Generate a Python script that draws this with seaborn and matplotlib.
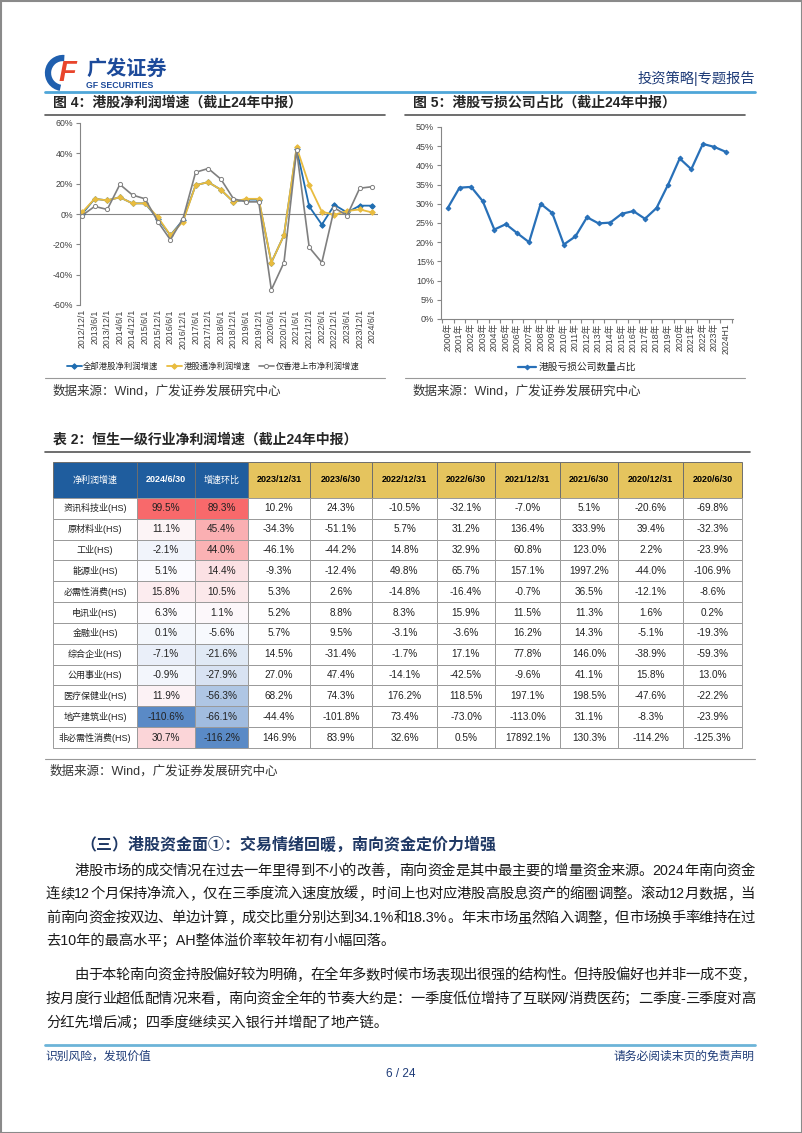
import re
import numpy as np
import matplotlib
matplotlib.use('Agg')
import matplotlib.pyplot as plt
import seaborn as sns
from matplotlib.patches import Rectangle, Arc
from matplotlib.colors import to_rgb

# 图4 数据
dates4 = ['2012/12/1', '2013/6/1', '2013/12/1', '2014/6/1', '2014/12/1', '2015/6/1',
          '2015/12/1', '2016/6/1', '2016/12/1', '2017/6/1', '2017/12/1', '2018/6/1',
          '2018/12/1', '2019/6/1', '2019/12/1', '2020/6/1', '2020/12/1', '2021/6/1',
          '2021/12/1', '2022/6/1', '2022/12/1', '2023/6/1', '2023/12/1', '2024/6/1']
all_hk = [0, 10, 9, 11, 7, 7, -3, -14, -4, 19, 21, 16, 8, 9.5, 9.5, -32, -14, 43, 5, -7, 6, 1, 5.5, 5.5]
sh_connect = [1, 10, 9, 11, 7, 7, -2, -14, -5, 19, 21, 16, 8, 10, 10, -32, -14, 44, 19, 1.5, -0.5, 2, 3, 1]
hk_only = [-1, 5, 3, 19.5, 12.5, 10, -5, -17, -3, 27.5, 30, 23, 10, 8, 8, -50, -32, 42, -22, -32, 4, -1, 17, 18]

# 图5 数据
years5 = ['2000年', '2001年', '2002年', '2003年', '2004年', '2005年', '2006年', '2007年',
          '2008年', '2009年', '2010年', '2011年', '2012年', '2013年', '2014年', '2015年',
          '2016年', '2017年', '2018年', '2019年', '2020年', '2021年', '2022年', '2023年', '2024H1']
loss_share = [29.0, 34.2, 34.4, 30.7, 23.3, 24.7, 22.3, 20.0, 30.0, 27.6, 19.4, 21.5, 26.5,
              24.9, 25.1, 27.4, 28.1, 26.1, 28.9, 35.0, 41.8, 39.0, 45.6, 44.8, 43.5]

# 表2 数据
ind_names = ['资讯科技业(HS)', '原材料业(HS)', '工业(HS)', '能源业(HS)', '必需性消费(HS)',
             '电讯业(HS)', '金融业(HS)', '综合企业(HS)', '公用事业(HS)', '医疗保健业(HS)',
             '地产建筑业(HS)', '非必需性消费(HS)']
tbl_cols = ['2024/6/30', '增速环比', '2023/12/31', '2023/6/30', '2022/12/31', '2022/6/30',
            '2021/12/31', '2021/6/30', '2020/12/31', '2020/6/30']
g_2024h1 = [99.5, 11.1, -2.1, 5.1, 15.8, 6.3, 0.1, -7.1, -0.9, 11.9, -110.6, 30.7]
g_qoq = [89.3, 45.4, 44.0, 14.4, 10.5, 1.1, -5.6, -21.6, -27.9, -56.3, -66.1, -116.2]
g_2023 = [10.2, -34.3, -46.1, -9.3, 5.3, 5.2, 5.7, 14.5, 27.0, 68.2, -44.4, 146.9]
g_2023h1 = [24.3, -51.1, -44.2, -12.4, 2.6, 8.8, 9.5, -31.4, 47.4, 74.3, -101.8, 83.9]
g_2022 = [-10.5, 5.7, 14.8, 49.8, -14.8, 8.3, -3.1, -1.7, -14.1, 176.2, 73.4, 32.6]
g_2022h1 = [-32.1, 31.2, 32.9, 65.7, -16.4, 15.9, -3.6, 17.1, -42.5, 118.5, -73.0, 0.5]
g_2021 = [-7.0, 136.4, 60.8, 157.1, -0.7, 11.5, 16.2, 77.8, -9.6, 197.1, -113.0, 17892.1]
g_2021h1 = [5.1, 333.9, 123.0, 1997.2, 36.5, 11.3, 14.3, 146.0, 41.1, 198.5, 31.1, 130.3]
g_2020 = [-20.6, 39.4, 2.2, -44.0, -12.1, 1.6, -5.1, -38.9, 15.8, -47.6, -8.3, -114.2]
g_2020h1 = [-69.8, -32.3, -23.9, -106.9, -8.6, 0.2, -19.3, -59.3, 13.0, -22.2, -23.9, -125.3]
tbl_values = [g_2024h1, g_qoq, g_2023, g_2023h1, g_2022, g_2022h1, g_2021, g_2021h1, g_2020, g_2020h1]

para1 = ['港股市场的成交情况在过去一年里得到不小的改善，南向资金是其中最主要的增量资金来源。2024年南向资金',
         '连续12个月保持净流入，仅在三季度流入速度放缓，时间上也对应港股高股息资产的缩圈调整。滚动12月数据，当',
         '前南向资金按双边、单边计算，成交比重分别达到34.1%和18.3%。年末市场虽然陷入调整，但市场换手率维持在过',
         '去10年的最高水平；AH整体溢价率较年初有小幅回落。']
para2 = ['由于本轮南向资金持股偏好较为明确，在全年多数时候市场表现出很强的结构性。但持股偏好也并非一成不变，',
         '按月度行业超低配情况来看，南向资金全年的节奏大约是：一季度低位增持了互联网/消费医药；二季度-三季度对高',
         '分红先增后减；四季度继续买入银行并增配了地产链。']

sns.set_theme(style='white')
plt.rcParams['font.family'] = ['Liberation Sans', 'Noto Sans CJK SC', 'DejaVu Sans']
plt.rcParams['axes.unicode_minus'] = False

W, H = 802, 1133
fig = plt.figure(figsize=(W / 100, H / 100), dpi=100)
page = fig.add_axes([0, 0, 1, 1])
page.set_xlim(0, W)
page.set_ylim(H, 0)
page.axis('off')


def px_axes(x0, y0, x1, y1):
    return fig.add_axes([x0 / W, 1 - y1 / H, (x1 - x0) / W, (y1 - y0) / H])


navy = '#1F3C78'
grey_txt = '#404040'
spine_c = '#868686'

# 页面边框, 页眉
page.add_patch(Rectangle((0.5, 0.5), W - 1, H - 1, fill=False, ec='#8A8A8A', lw=1.5))
page.add_patch(Arc((63, 73), 30, 30, theta1=100, theta2=275, lw=4.5, color='#1F5FAE'))
page.text(67, 73, 'F', fontsize=21, fontweight='bold', style='italic', color='#E8452C',
          ha='center', va='center')
page.text(86, 69, '广发证券', fontsize=14.5, fontweight='bold', color='#1C4A9A', va='center')
page.text(86, 85.5, 'GF SECURITIES', fontsize=6.3, fontweight='bold', color='#1C4A9A', va='center')
page.text(755, 78, '投资策略|专题报告', fontsize=10.3, color=navy, ha='right', va='center')
page.plot([45, 755], [92, 92], color='#4EA6D8', lw=2)

# 标题和来源
page.text(53, 103, '图 4：港股净利润增速（截止24年中报）', fontsize=10, fontweight='bold', va='center')
page.text(413, 103, '图 5：港股亏损公司占比（截止24年中报）', fontsize=10, fontweight='bold', va='center')
page.plot([45, 385], [115, 115], color='#555555', lw=1.2)
page.plot([405, 745], [115, 115], color='#555555', lw=1.2)
page.plot([45, 385], [378, 378], color='#999999', lw=0.8)
page.plot([405, 745], [378, 378], color='#999999', lw=0.8)
src = '数据来源：Wind，广发证券发展研究中心'
page.text(53, 391, src, fontsize=9, color='#333333', va='center')
page.text(413, 391, src, fontsize=9, color='#333333', va='center')

# 图4
ax1 = px_axes(80, 123, 378, 305)
x4 = np.arange(len(dates4))
sns.lineplot(x=x4, y=all_hk, ax=ax1, color='#1F6DB1', lw=1.3, marker='D', markersize=2.8,
             markeredgecolor='#1F6DB1', label='全部港股净利润增速')
sns.lineplot(x=x4, y=sh_connect, ax=ax1, color='#E9BC3F', lw=1.3, marker='D', markersize=2.8,
             markeredgecolor='#E9BC3F', label='港股通净利润增速')
sns.lineplot(x=x4, y=hk_only, ax=ax1, color='#7F7F7F', lw=1.2, marker='o', markersize=3,
             markerfacecolor='white', markeredgecolor='#7F7F7F', markeredgewidth=0.7,
             label='仅香港上市净利润增速')
ax1.axhline(0, color=spine_c, lw=0.8, zorder=0)
ax1.set_xlim(-0.16, 23.45)
ax1.set_ylim(-60, 60)
ax1.set_yticks(range(-60, 61, 20))
ax1.set_yticklabels([f'{v}%' for v in range(-60, 61, 20)])
ax1.set_xticks(x4)
ax1.set_xticklabels(dates4, rotation=90)
ax1.tick_params(axis='x', length=0, pad=3, labelsize=6.3, labelcolor=grey_txt)
ax1.tick_params(axis='y', length=3, width=0.8, color=spine_c, direction='out', pad=2,
                labelsize=6.3, labelcolor=grey_txt, left=True)
for s in ['top', 'right', 'bottom']:
    ax1.spines[s].set_visible(False)
ax1.spines['left'].set_color(spine_c)
ax1.spines['left'].set_linewidth(0.8)
ax1.set_xlabel('')
ax1.legend(loc='center', bbox_to_anchor=(0.446, -0.34), ncol=3, frameon=False, fontsize=6,
           handlelength=1.8, handletextpad=0.2, columnspacing=1.0)

# 图5
ax2 = px_axes(441, 127, 733, 319)
x5 = np.arange(len(years5))
sns.lineplot(x=x5, y=loss_share, ax=ax2, color='#2870B8', lw=1.6, marker='D', markersize=2.4,
             markeredgecolor='#2870B8', label='港股亏损公司数量占比')
ax2.set_xlim(-0.6, 24.6)
ax2.set_ylim(0, 50)
ax2.set_yticks(range(0, 51, 5))
ax2.set_yticklabels([f'{v}%' for v in range(0, 51, 5)])
ax2.set_xticks(x5)
ax2.set_xticklabels(years5, rotation=90)
ax2.set_xticks(np.arange(-0.5, 25, 1), minor=True)
ax2.tick_params(axis='x', which='major', length=0, pad=3, labelsize=6.3, labelcolor=grey_txt)
ax2.tick_params(axis='x', which='minor', length=3, width=0.8, color=spine_c, bottom=True)
ax2.tick_params(axis='y', length=3, width=0.8, color=spine_c, direction='out', pad=2,
                labelsize=6.5, labelcolor=grey_txt, left=True)
for s in ['top', 'right']:
    ax2.spines[s].set_visible(False)
for s in ['left', 'bottom']:
    ax2.spines[s].set_color(spine_c)
    ax2.spines[s].set_linewidth(0.8)
ax2.legend(loc='center', bbox_to_anchor=(0.466, -0.25), frameon=False, fontsize=7,
           handlelength=1.8, handletextpad=0.3)

# 表2
page.text(53, 440, '表 2：恒生一级行业净利润增速（截止24年中报）', fontsize=10, fontweight='bold', va='center')
page.plot([45, 750], [452, 452], color='#555555', lw=1.2)

col_edges = [53, 137, 195, 248, 310, 372, 437, 495, 560, 618, 683, 742]
top, head_h, row_h = 462, 36, 20.83
hdr_blue, hdr_gold, grid_c = '#1F5D9E', '#E5C45E', '#9A9A9A'
c_lo, c_mid, c_hi = np.array(to_rgb('#5A8AC6')), np.array(to_rgb('#FCFCFF')), np.array(to_rgb('#F8696B'))


def scale_color(v, vals):
    lo, mid, hi = min(vals), np.median(vals), max(vals)
    if v >= mid:
        return c_mid + (v - mid) / (hi - mid) * (c_hi - c_mid)
    return c_mid + (mid - v) / (mid - lo) * (c_lo - c_mid)


headers = ['净利润增速'] + tbl_cols
for j, h in enumerate(headers):
    x0, x1 = col_edges[j], col_edges[j + 1]
    fc = hdr_blue if j < 3 else hdr_gold
    page.add_patch(Rectangle((x0, top), x1 - x0, head_h, fc=fc, ec='#6E6E6E', lw=0.7))
    page.text((x0 + x1) / 2, top + head_h / 2, h, fontsize=6.5,
              fontweight='normal' if re.search('[\u4e00-\u9fff]', h) else 'bold',
              color='white' if j < 3 else 'black', ha='center', va='center')

for i, name in enumerate(ind_names):
    y0 = top + head_h + i * row_h
    page.add_patch(Rectangle((col_edges[0], y0), col_edges[1] - col_edges[0], row_h,
                             fc='white', ec=grid_c, lw=0.7))
    page.text((col_edges[0] + col_edges[1]) / 2, y0 + row_h / 2, name, fontsize=6.5,
              color='#222222', ha='center', va='center')
    for j, vals in enumerate(tbl_values):
        x0, x1 = col_edges[j + 1], col_edges[j + 2]
        fc = scale_color(vals[i], vals) if j < 2 else 'white'
        page.add_patch(Rectangle((x0, y0), x1 - x0, row_h, fc=fc, ec=grid_c, lw=0.7))
        page.text((x0 + x1) / 2, y0 + row_h / 2, f'{vals[i]:.1f}%', fontsize=7.2,
                  color='#222222', ha='center', va='center')

page.plot([45, 755], [759, 759], color='#999999', lw=0.8)
page.text(50, 771, src, fontsize=9, color='#333333', va='center')

# 正文
page.text(80, 845, '（三）港股资金面①：交易情绪回暖，南向资金定价力增强', fontsize=11.5,
          fontweight='bold', color='#1F3864', va='center')

renderer = fig.canvas.get_renderer()


def justify(y, s, x0, x1, size, last=False):
    if last:
        page.text(x0, y, s, fontsize=size, color='#1A1A1A', va='center')
        return
    toks = re.findall(r'[A-Za-z0-9.%/]+|.', s)
    ws = []
    for t in toks:
        tt = page.text(0, 0, t, fontsize=size)
        ws.append(tt.get_window_extent(renderer).width)
        tt.remove()
    gap = (x1 - x0 - sum(ws)) / (len(toks) - 1)
    x = x0
    for t, w in zip(toks, ws):
        page.text(x, y, t, fontsize=size, color='#1A1A1A', va='center')
        x += w + gap


body_fs = 10.3
ys1 = [871, 894, 918, 941]
for k, line in enumerate(para1):
    justify(ys1[k], line, 74 if k == 0 else 46, 755, body_fs, last=(k == len(para1) - 1))
ys2 = [975, 999, 1022]
for k, line in enumerate(para2):
    justify(ys2[k], line, 74 if k == 0 else 46, 755, body_fs, last=(k == len(para2) - 1))

# 页脚
page.plot([45, 755], [1045, 1045], color='#6CB4D8', lw=2)
page.text(45, 1057, '识别风险，发现价值', fontsize=8.5, color=navy, va='center')
page.text(755, 1057, '请务必阅读末页的免责声明', fontsize=8.5, color=navy, ha='right', va='center')
page.text(401, 1074, '6 / 24', fontsize=8.5, color=navy, ha='center', va='center')

fig.savefig('out.png', dpi=100)
